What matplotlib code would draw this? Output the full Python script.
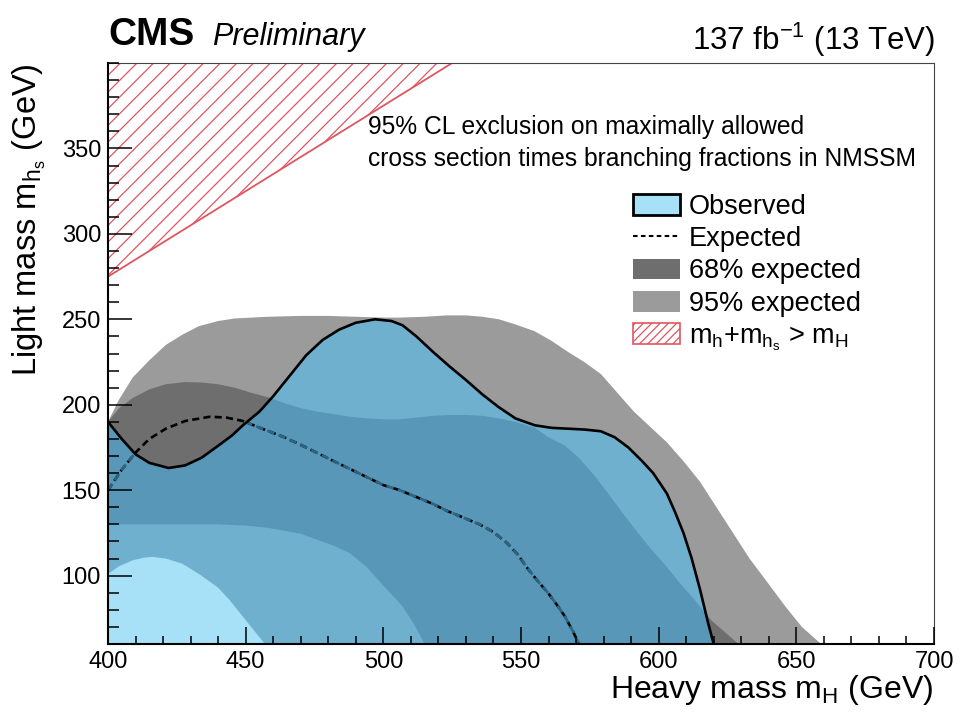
import numpy as np
import matplotlib

matplotlib.use("Agg")
import matplotlib.pyplot as plt
from matplotlib.lines import Line2D
from matplotlib.patches import Patch

plt.rcParams["font.family"] = ["Liberation Sans", "DejaVu Sans"]
plt.rcParams["mathtext.fontset"] = "custom"
plt.rcParams["mathtext.rm"] = "Liberation Sans"
plt.rcParams["mathtext.it"] = "Liberation Sans:italic"
plt.rcParams["hatch.linewidth"] = 0.9

# values (m_H, m_hs in GeV)
obs_x = [400, 405, 410, 415, 422, 428, 434, 440, 445, 449, 455, 460, 466, 472, 478, 484, 490, 497,
         503, 507, 512, 518, 524, 530, 536, 542, 548, 555, 561, 567, 573, 579, 584, 589, 594, 598,
         603, 606, 609, 612, 615, 618, 620]
obs_y = [190, 180, 171, 166, 163, 164.5, 169, 176, 182, 188, 196, 205, 217, 229, 238, 244, 248, 250,
         249, 246.5, 240, 231, 222.5, 214.5, 206, 198.5, 192, 188, 186.5, 186, 185.5, 184.5, 181, 175,
         167, 160, 148, 137, 125, 110, 92, 72, 60]

exp_x = [400, 405, 410, 415, 421, 428, 437, 443, 449, 456, 464, 472, 482, 491, 500, 506, 512, 518,
         523, 529, 535, 540, 545, 549, 552, 556, 560, 563, 566, 569, 571]
exp_y = [150, 162, 172, 180, 186, 190.5, 193, 192.5, 190.5, 186, 181, 175, 167, 160, 153, 150, 146, 142,
         138, 134, 130, 125.5, 119, 112, 105, 97, 89.5, 83, 76, 67, 60]

up68_x = [400, 404, 409, 415, 421, 428, 434, 440, 446, 452, 459, 465, 470, 476, 482, 488, 494, 500,
          506, 512, 518, 524, 530, 536, 542, 548, 555, 560, 566, 571, 577, 584, 591, 597, 603, 608,
          613, 619, 624, 629]
up68_y = [190, 198, 204, 209, 212, 213.3, 213, 212, 210, 207, 204, 200.5, 198, 196, 194.5, 193, 192,
          191.5, 191.5, 192.5, 193.5, 194, 194, 193.5, 192, 190, 186.5, 181, 176, 169, 158, 143, 128,
          116, 105, 95, 86, 74, 67, 60]
lo68_x = [400, 415, 430, 440, 450, 458, 465, 470, 476, 482, 488, 494, 499, 503, 507, 511, 515]
lo68_y = [130, 130, 130, 130, 129.3, 128, 126, 124.5, 121, 117.5, 113, 105, 96, 89, 82, 72, 60]

up95_x = [400, 404, 409, 415, 421, 427, 433, 440, 446, 452, 458, 470, 480, 490, 500, 506, 515, 523,
          530, 536, 542, 548, 555, 561, 567, 573, 579, 585, 591, 597, 603, 609, 615, 621, 627, 633,
          640, 646, 652, 659]
up95_y = [190, 203, 216, 226, 235, 241, 246, 249, 250.5, 251, 251.5, 252, 252, 251.5, 251, 251, 251.5,
          252.3, 252.3, 251.5, 250, 247, 243, 237.5, 231, 225, 218, 207, 196, 187, 178, 167, 155, 140,
          125, 110, 95, 82, 70, 60]
lo95_x = [400, 404, 409, 413, 416, 421, 427, 433, 440, 444, 448, 452, 457]
lo95_y = [101, 105.5, 109, 110.5, 111, 110, 107, 101, 93, 86, 78, 70, 60]

# m_h + m_hs > m_H boundary
kin_x = [400, 525]
kin_y = [275, 400]

X_MIN, X_MAX = 400, 700
Y_MIN, Y_MAX = 60, 400

LIGHT_BLUE = "#a7e1f7"
MID_BLUE = "#70b0cf"
DARK_BLUE = "#5897b8"
GREY95 = "#9b9b9b"
GREY68 = "#6e6e6e"
RED = "#e05560"


def band_outline(x_hi, y_hi, x_lo, y_lo):
    xs = np.concatenate([x_hi, x_lo[::-1]])
    ys = np.concatenate([y_hi, y_lo[::-1]])
    return xs, ys


fig = plt.figure(figsize=(9.61, 7.14), dpi=100)
ax = fig.add_axes([108 / 961, 70 / 714, 826 / 961, 581 / 714])

b95 = band_outline(np.array(up95_x), np.array(up95_y), np.array(lo95_x), np.array(lo95_y))
b68 = band_outline(np.array(up68_x), np.array(up68_y), np.array(lo68_x), np.array(lo68_y))
obs_poly_x = np.concatenate([obs_x, [X_MIN]])
obs_poly_y = np.concatenate([obs_y, [Y_MIN]])

# kinematically forbidden region
ax.fill_between(kin_x, kin_y, Y_MAX, facecolor="none", edgecolor=RED, hatch="//", linewidth=0, zorder=0.5)
ax.plot(kin_x, kin_y, color=RED, lw=1.3, zorder=0.6)

# expected bands (outside the observed exclusion)
ax.fill(*b95, color=GREY95, lw=0, zorder=1)
ax.fill(*b68, color=GREY68, lw=0, zorder=1.1)

# observed exclusion, bands seen through it
obs_patch = ax.fill(obs_poly_x, obs_poly_y, color=LIGHT_BLUE, lw=0, zorder=1.2)[0]
for (bx, by), col, z in [(b95, MID_BLUE, 1.3), (b68, DARK_BLUE, 1.4)]:
    p = ax.fill(bx, by, color=col, lw=0, zorder=z)[0]
    p.set_clip_path(obs_patch)

dash = (0, (2.7, 1.6))
ax.plot(exp_x, exp_y, color="black", lw=1.9, linestyle=dash, zorder=1.6)
inner, = ax.plot(exp_x, exp_y, color="#2d6583", lw=2.0, linestyle=dash, zorder=1.7)
inner.set_clip_path(obs_patch)
ax.plot(obs_x, obs_y, color="black", lw=1.9, zorder=1.8, solid_joinstyle="round")

ax.set_xlim(X_MIN, X_MAX)
ax.set_ylim(Y_MIN, Y_MAX)
ax.set_xticks(np.arange(400, 701, 50))
ax.set_xticks(np.arange(400, 701, 10), minor=True)
ax.set_yticks(np.arange(100, 351, 50))
ax.set_yticks(np.arange(60, 401, 10), minor=True)
ax.tick_params(which="both", direction="in", top=False, right=False, width=1.1, labelsize=17)
ax.tick_params(axis="x", which="major", length=12, pad=5)
ax.tick_params(axis="x", which="minor", length=6)
ax.tick_params(axis="y", which="major", length=17, pad=5)
ax.tick_params(axis="y", which="minor", length=8)
ax.set_axisbelow(False)
for side in ("bottom", "left"):
    ax.spines[side].set_linewidth(1.5)
for side in ("top", "right"):
    ax.spines[side].set_linewidth(0.8)
    ax.spines[side].set_color("#444444")

fig.text(108 / 961, 1 - 45 / 714, "CMS", fontsize=28, fontweight="bold", va="baseline")
fig.text(212 / 961, 1 - 45 / 714, "Preliminary", fontsize=22, fontstyle="italic", va="baseline")
fig.text(935 / 961, 1 - 50 / 714, r"137 fb$^{\mathregular{-1}}$ (13 TeV)", fontsize=22.5, ha="right",
         va="baseline")

fig.text(933 / 961, 1 - 698 / 714, r"Heavy mass $\mathregular{m_H}$ (GeV)", fontsize=23,
         ha="right", va="baseline")
fig.text(37 / 961, 1 - 63 / 714, r"Light mass $\mathregular{m_{h_s}}$ (GeV)", fontsize=23.5,
         ha="right", va="baseline", rotation=90, rotation_mode="anchor")

fig.text(368 / 961, 1 - 134 / 714, "95% CL exclusion on maximally allowed", fontsize=17.7, va="baseline")
fig.text(368 / 961, 1 - 166 / 714, "cross section times branching fractions in NMSSM", fontsize=17.7,
         va="baseline")

handles = [
    Patch(facecolor=LIGHT_BLUE, edgecolor="black", linewidth=2),
    Line2D([], [], color="black", lw=1.5, linestyle=(0, (2.2, 1.6))),
    Patch(facecolor=GREY68, edgecolor="none"),
    Patch(facecolor=GREY95, edgecolor="none"),
    Patch(facecolor="white", edgecolor=RED, hatch="////", linewidth=1.2),
]
labels = ["Observed", "Expected", "68% expected", "95% expected",
          r"$\mathregular{m_h{+}m_{h_s}}$ > $\mathregular{m_H}$"]
fig.legend(handles, labels, loc="upper left", bbox_to_anchor=(633 / 961, 1 - 194 / 714),
           frameon=False, fontsize=19.5, borderpad=0, borderaxespad=0, handlelength=1.75,
           handleheight=0.8, handletextpad=0.3, labelspacing=0.23)

fig.savefig("out.png", dpi=100)
